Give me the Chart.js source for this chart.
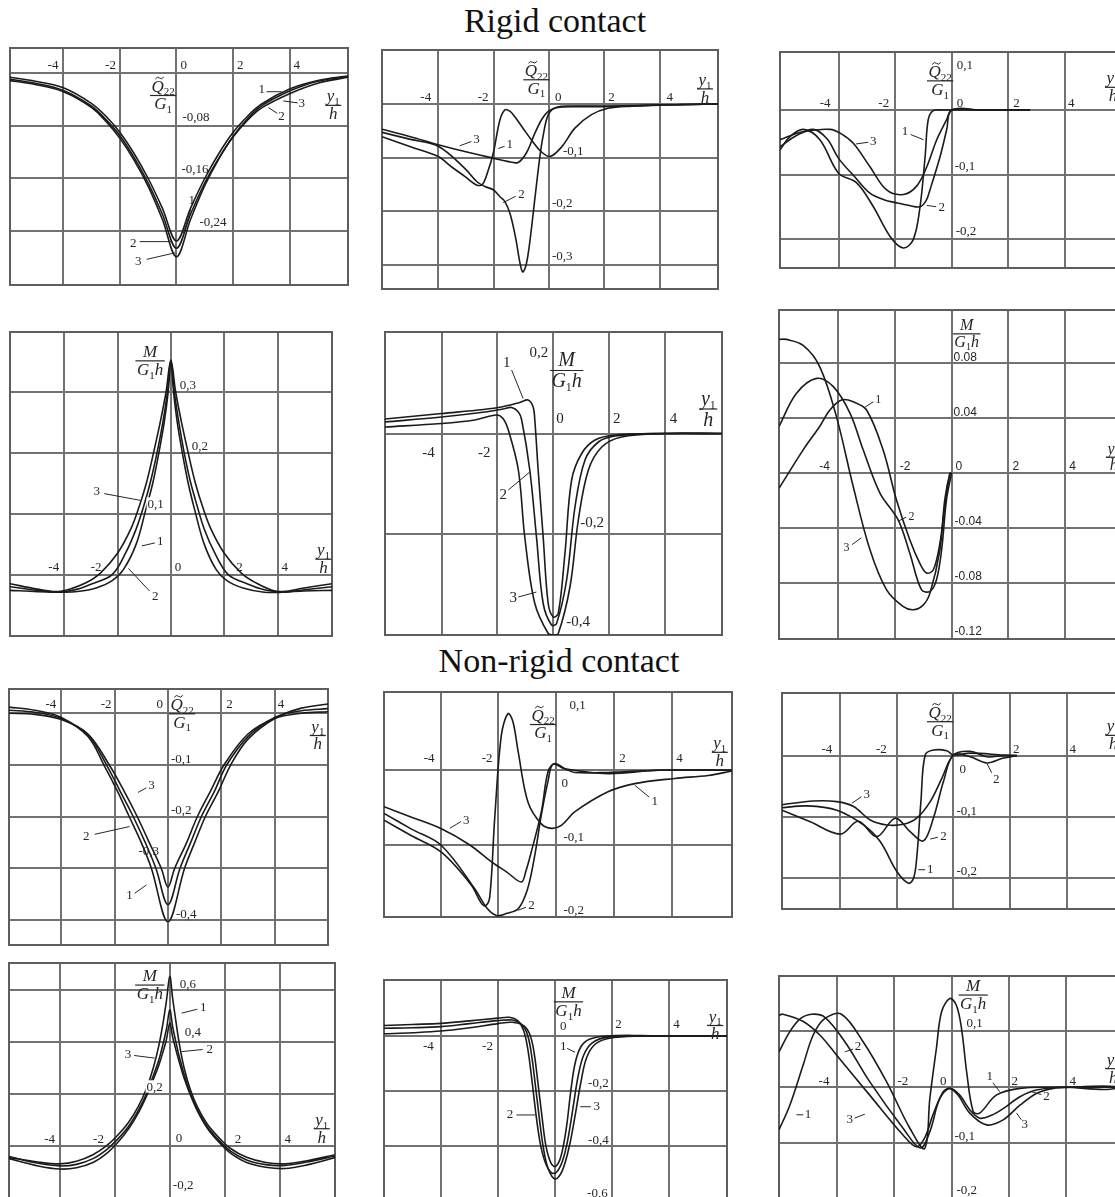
<!DOCTYPE html>
<html>
<head>
<meta charset="utf-8">
<script src="https://cdn.jsdelivr.net/npm/chart.js@4.4.0/dist/chart.umd.min.js"></script>
<style>
html, body { margin: 0; padding: 0; background: #fff; width: 1115px; height: 1197px; overflow: hidden; }
#page { position: relative; width: 1115px; height: 1197px; overflow: hidden; background: #fff; }
#page canvas { position: absolute; }
.title { position: absolute; font-family: "Liberation Serif", serif; font-size: 34px; color: #111; white-space: nowrap; transform: translateX(-50%); line-height: 38px; }
</style>
</head>
<body>
<div id="page">
  <div class="title" style="left:555px; top:2px">Rigid contact</div>
  <div class="title" style="left:559px; top:642px">Non-rigid contact</div>
</div>
<script>
// y1/h grid, same for every panel
const xGrid = [-4, -2, 0, 2, 4];
const xTicks = [-4, -2, 2, 4];
const xTicksZero = [-4, -2, 0, 2, 4];

// ---------- Rigid contact ----------
// Q22/G1, left
const rigQaY = [0, -0.08, -0.16, -0.24];
const rigQaYLab = [0, -0.08, -0.16, -0.24];
const rigQa1 = [[-5.9,-0.006],[-5,-0.012],[-4,-0.022],[-3,-0.046],[-2.5,-0.065],[-2,-0.09],[-1.5,-0.122],[-1,-0.16],[-0.5,-0.205],[0,-0.255],[0.5,-0.205],[1,-0.16],[1.5,-0.122],[2,-0.09],[2.5,-0.066],[3,-0.047],[4,-0.024],[5,-0.011],[6.07,-0.004]];
const rigQa2 = [[-5.9,-0.009],[-5,-0.015],[-4,-0.026],[-3,-0.05],[-2.5,-0.07],[-2,-0.095],[-1.5,-0.128],[-1,-0.167],[-0.5,-0.214],[0,-0.266],[0.5,-0.214],[1,-0.167],[1.5,-0.129],[2,-0.097],[2.5,-0.072],[3,-0.053],[4,-0.031],[5,-0.015],[6.07,-0.006]];
const rigQa3 = [[-5.9,-0.011],[-5,-0.017],[-4,-0.028],[-3,-0.052],[-2.5,-0.073],[-2,-0.099],[-1.5,-0.132],[-1,-0.172],[-0.5,-0.222],[0,-0.279],[0.5,-0.222],[1,-0.171],[1.5,-0.13],[2,-0.096],[2.5,-0.07],[3,-0.05],[4,-0.027],[5,-0.012],[6.07,-0.005]];

// Q22/G1, middle
const rigQbY = [0, -0.1, -0.2, -0.3];
const rigQbYLab = [0, -0.1, -0.2, -0.3];
const rigQb1 = [[-6.03,-0.061],[-5,-0.08],[-4,-0.098],[-3.5,-0.118],[-3.04,-0.135],[-2.62,-0.151],[-2.4,-0.15],[-2.2,-0.125],[-2.01,-0.092],[-1.77,-0.03],[-1.59,-0.011],[-1.4,-0.014],[-1.23,-0.024],[-0.9,-0.048],[-0.63,-0.067],[-0.3,-0.088],[0.04,-0.098],[0.46,-0.08],[0.94,-0.045],[1.54,-0.02],[2.14,-0.008],[3,-0.004],[4.07,-0.002],[6.12,0]];
const rigQb2 = [[-6.03,-0.053],[-5,-0.066],[-4,-0.079],[-3.04,-0.12],[-2.6,-0.145],[-2.31,-0.154],[-2.01,-0.16],[-1.77,-0.173],[-1.59,-0.182],[-1.4,-0.205],[-1.2,-0.25],[-1.05,-0.295],[-0.95,-0.313],[-0.85,-0.305],[-0.75,-0.28],[-0.63,-0.232],[-0.51,-0.178],[-0.33,-0.1],[-0.21,-0.06],[-0.02,-0.02],[0.28,-0.006],[1,-0.004],[2.14,-0.004],[4.07,-0.002],[6.12,0]];
const rigQb3 = [[-6.03,-0.047],[-5,-0.061],[-4,-0.076],[-3,-0.089],[-2.01,-0.101],[-1.5,-0.107],[-1.11,-0.109],[-0.8,-0.09],[-0.51,-0.055],[-0.25,-0.028],[-0.02,-0.014],[0.28,-0.007],[1,-0.005],[2.14,-0.005],[4.07,-0.002],[6.12,0]];

// Q22/G1, right
const rigQcY = [0, -0.1, -0.2];
const rigQcYLab = [0.1, 0, -0.1, -0.2];
const rigQc1 = [[-6.07,-0.062],[-5.71,-0.041],[-5.24,-0.03],[-4.66,-0.046],[-4,-0.098],[-3.36,-0.113],[-2.77,-0.15],[-2.18,-0.196],[-1.71,-0.214],[-1.36,-0.201],[-1.12,-0.15],[-0.94,-0.072],[-0.83,-0.015],[-0.65,-0.001],[-0.3,0],[0,0],[1,0],[2.77,0]];
const rigQc2 = [[-6.07,-0.057],[-5.5,-0.04],[-4.89,-0.03],[-4.4,-0.045],[-4,-0.075],[-3.4,-0.105],[-2.89,-0.129],[-2.4,-0.139],[-1.94,-0.144],[-1.5,-0.148],[-1.12,-0.15],[-0.9,-0.14],[-0.77,-0.124],[-0.41,-0.072],[-0.18,-0.031],[0,0],[1,0],[2.77,0]];
const rigQc3 = [[-6.07,-0.046],[-5.3,-0.034],[-4.3,-0.03],[-3.9,-0.037],[-3.47,-0.052],[-2.89,-0.088],[-2.3,-0.124],[-1.71,-0.131],[-1.24,-0.118],[-0.88,-0.088],[-0.53,-0.046],[-0.18,-0.015],[0,0],[1,0],[2.77,0]];

// M/(G1 h), left
const rigMaY = [0, 0.1, 0.2, 0.3];
const rigMaYLab = [0.3, 0.2, 0.1, 0];
const rigMa1 = [[-6.03,-0.02],[-5,-0.026],[-4.2,-0.029],[-3.5,-0.024],[-3,-0.016],[-2.2,0],[-1.7,0.035],[-1.3,0.075],[-1,0.115],[-0.75,0.155],[-0.52,0.2],[-0.3,0.25],[-0.13,0.3],[0,0.352],[0.13,0.3],[0.3,0.25],[0.5,0.2],[0.72,0.155],[0.97,0.115],[1.25,0.075],[1.65,0.035],[2.15,0],[2.9,-0.016],[3.5,-0.025],[4.2,-0.029],[5,-0.025],[6.04,-0.02]];
const rigMa2 = [[-6.03,-0.026],[-5,-0.028],[-4,-0.029],[-3.5,-0.028],[-2.8,-0.022],[-2.2,-0.01],[-1.78,0.008],[-1.3,0.05],[-0.95,0.105],[-0.68,0.15],[-0.45,0.2],[-0.25,0.25],[-0.1,0.3],[0,0.352],[0.1,0.3],[0.24,0.25],[0.43,0.2],[0.65,0.15],[0.9,0.105],[1.25,0.05],[1.7,0.008],[2.1,-0.01],[2.7,-0.022],[3.5,-0.029],[4.2,-0.029],[5,-0.027],[6.04,-0.026]];
const rigMa3 = [[-6.03,-0.015],[-5,-0.024],[-4.3,-0.028],[-3.8,-0.024],[-3.2,-0.014],[-2.65,0.002],[-2,0.035],[-1.5,0.075],[-1.2,0.11],[-0.92,0.15],[-0.65,0.2],[-0.4,0.25],[-0.18,0.3],[0,0.352],[0.18,0.3],[0.4,0.25],[0.65,0.2],[0.92,0.15],[1.2,0.11],[1.5,0.075],[2,0.035],[2.65,0.002],[3.2,-0.014],[3.8,-0.026],[4.2,-0.028],[5,-0.022],[6.04,-0.015]];

// M/(G1 h), middle
const rigMbY = [0, -0.2];
const rigMbYLab = [0.2, 0, -0.2, -0.4];
const rigMb1 = [[-6.03,0.029],[-4,0.04],[-2.5,0.048],[-1.85,0.053],[-1.2,0.062],[-0.9,0.067],[-0.72,0.053],[-0.66,0.027],[-0.54,-0.073],[-0.36,-0.207],[-0.18,-0.34],[0,-0.367],[0.18,-0.36],[0.42,-0.24],[0.66,-0.093],[1.02,-0.04],[1.5,-0.013],[2.22,-0.003],[3.95,0],[6.05,0]];
const rigMb2 = [[-6.03,0.023],[-4,0.033],[-2.45,0.043],[-1.8,0.049],[-1.49,0.052],[-1.25,0.043],[-1.13,0.027],[-0.84,-0.073],[-0.6,-0.207],[-0.36,-0.34],[-0.06,-0.383],[0.12,-0.38],[0.48,-0.293],[0.78,-0.147],[1.14,-0.053],[1.62,-0.017],[2.22,-0.005],[3.95,0],[6.05,0]];
const rigMb3 = [[-6.03,0.013],[-4,0.02],[-2.81,0.027],[-2.03,0.037],[-1.8,0.03],[-1.61,0.007],[-1.25,-0.073],[-1.02,-0.207],[-0.66,-0.34],[-0.18,-0.4],[0,-0.403],[0.18,-0.4],[0.6,-0.307],[0.9,-0.173],[1.26,-0.073],[1.74,-0.027],[2.45,-0.007],[3.95,0],[6.05,0]];

// M/(G1 h), right
const rigMcY = [0.08, 0.04, 0, -0.04, -0.08];
const rigMcYLab = [0.08, 0.04, 0, -0.04, -0.08, -0.12];
const rigMc1 = [[-6.07,-0.011],[-5.22,0.017],[-4.64,0.034],[-4.28,0.046],[-3.87,0.0533],[-3.46,0.052],[-2.99,0.046],[-2.41,0.017],[-1.94,-0.0194],[-1.47,-0.0485],[-1.12,-0.0655],[-0.88,-0.0727],[-0.64,-0.0703],[-0.41,-0.051],[-0.24,-0.024],[-0.06,-0.001],[0,0]];
const rigMc2 = [[-6.07,0.034],[-5.46,0.058],[-4.75,0.069],[-4.16,0.063],[-3.57,0.0436],[-3.11,0.017],[-2.52,-0.0145],[-1.88,-0.034],[-1.47,-0.0582],[-1.06,-0.0848],[-0.76,-0.086],[-0.53,-0.0776],[-0.35,-0.0558],[-0.18,-0.0194],[0,0]];
const rigMc3 = [[-6.07,0.0974],[-5.81,0.0974],[-5.22,0.093],[-4.64,0.0776],[-4.05,0.0412],[-3.46,-0.0097],[-2.87,-0.0558],[-2.29,-0.0848],[-1.71,-0.097],[-1.35,-0.0994],[-1,-0.096],[-0.76,-0.0873],[-0.41,-0.0558],[-0.24,-0.0194],[-0.06,0],[0,0]];

// ---------- Non-rigid contact ----------
// Q22/G1, left
const nrQaY = [0, -0.1, -0.2, -0.3, -0.4];
const nrQaYLab = [-0.1, -0.2, -0.3, -0.4];
const nrQa1 = [[-5.96,0.012],[-5,0.006],[-4,-0.008],[-3,-0.045],[-2.4,-0.1],[-1.9,-0.15],[-1.45,-0.2],[-1,-0.25],[-0.62,-0.3],[0,-0.403],[0.62,-0.3],[1,-0.25],[1.4,-0.2],[1.9,-0.15],[2.35,-0.1],[3,-0.05],[4,-0.01],[5,0.01],[6,0.018]];
const nrQa2 = [[-5.96,0.006],[-5,0.002],[-4,-0.01],[-3,-0.042],[-2.3,-0.1],[-1.8,-0.15],[-1.3,-0.2],[-0.85,-0.25],[-0.45,-0.3],[0,-0.37],[0.45,-0.3],[0.85,-0.25],[1.25,-0.2],[1.75,-0.15],[2.2,-0.1],[3,-0.045],[4,-0.008],[5,0.005],[6,0.009]];
const nrQa3 = [[-5.96,0],[-5,-0.002],[-4,-0.012],[-3,-0.04],[-2.2,-0.1],[-1.65,-0.15],[-1.15,-0.2],[-0.7,-0.25],[-0.25,-0.3],[0,-0.336],[0.25,-0.3],[0.7,-0.25],[1.1,-0.2],[1.6,-0.15],[2.1,-0.1],[3,-0.04],[4,-0.01],[5,0],[6,0.003]];

// Q22/G1, middle
const nrQbY = [0, -0.1];
const nrQbYLab = [0.1, 0, -0.1, -0.2];
const nrQb1 = [[-5.95,-0.067],[-5,-0.088],[-3.97,-0.11],[-2.94,-0.154],[-2.6,-0.178],[-2.45,-0.182],[-2.3,-0.17],[-2.13,-0.065],[-1.9,0.047],[-1.67,0.076],[-1.5,0.065],[-1.32,0.025],[-0.98,-0.043],[-0.52,-0.072],[-0.17,-0.078],[0.17,-0.074],[0.63,-0.056],[1.78,-0.029],[2.7,-0.018],[4.08,-0.011],[5.24,-0.007],[6.06,-0.001]];
const nrQb2 = [[-5.95,-0.058],[-5,-0.079],[-3.97,-0.101],[-2.82,-0.159],[-2.4,-0.185],[-2.07,-0.195],[-1.7,-0.192],[-1.32,-0.186],[-1,-0.16],[-0.75,-0.115],[-0.52,-0.06],[-0.29,-0.015],[-0.12,0.008],[0.29,0.002],[1.78,-0.0045],[3.51,0],[6.06,0]];
const nrQb3 = [[-5.95,-0.049],[-5,-0.063],[-3.97,-0.0785],[-3,-0.1],[-2.24,-0.123],[-1.7,-0.137],[-1.21,-0.15],[-1.05,-0.135],[-0.87,-0.11],[-0.52,-0.056],[-0.29,-0.002],[-0.06,0.009],[0.29,0.002],[0.63,-0.003],[1.78,-0.003],[3.51,0],[6.06,0]];

// Q22/G1, right
const nrQcY = [0, -0.1, -0.2];
const nrQcYLab = [0, -0.1, -0.2];
const nrQc1 = [[-6.06,-0.085],[-5.18,-0.082],[-4.12,-0.089],[-3.18,-0.113],[-2.59,-0.14],[-2,-0.189],[-1.59,-0.208],[-1.41,-0.2],[-1.3,-0.168],[-1.15,-0.075],[-1,0.001],[-0.71,0.009],[-0.24,0.008],[0,0.001],[0.59,0.004],[1.77,0.001],[2.24,0]];
const nrQc2 = [[-6.06,-0.089],[-5.06,-0.108],[-4,-0.128],[-3.36,-0.107],[-2.71,-0.132],[-2.06,-0.102],[-1.53,-0.124],[-1.06,-0.139],[-0.71,-0.102],[-0.35,-0.042],[0,0.001],[0.59,-0.002],[1.18,-0.012],[1.77,-0.004],[2.24,0]];
const nrQc3 = [[-6.06,-0.08],[-4.94,-0.074],[-4.12,-0.075],[-3.53,-0.083],[-2.94,-0.105],[-2.36,-0.113],[-1.77,-0.112],[-1.3,-0.102],[-0.82,-0.075],[-0.41,-0.037],[0,0.001],[0.59,0.007],[1.18,-0.002],[1.77,0],[2.24,0]];

// M/(G1 h), left
const nrMaY = [0.6, 0.4, 0.2, 0, -0.2];
const nrMaYLab = [0.6, 0.4, 0.2, 0, -0.2];
const nrMa1 = [[-5.86,-0.045],[-4.8,-0.063],[-4,-0.07],[-3.4,-0.06],[-2.8,-0.035],[-2.3,0],[-1.9,0.04],[-1.5,0.09],[-1.15,0.15],[-0.85,0.22],[-0.6,0.3],[-0.4,0.385],[-0.25,0.47],[-0.12,0.56],[0,0.652],[0.1,0.57],[0.22,0.48],[0.35,0.39],[0.52,0.3],[0.75,0.215],[1,0.15],[1.35,0.085],[1.75,0.035],[2.2,-0.01],[2.8,-0.045],[3.5,-0.065],[4.2,-0.07],[5,-0.058],[6.02,-0.035]];
const nrMa2 = [[-5.86,-0.042],[-4.8,-0.068],[-4,-0.078],[-3.4,-0.072],[-2.8,-0.05],[-2.3,-0.015],[-1.9,0.025],[-1.5,0.075],[-1.15,0.135],[-0.85,0.2],[-0.6,0.27],[-0.4,0.33],[-0.25,0.39],[-0.12,0.45],[0,0.523],[0.1,0.46],[0.22,0.4],[0.35,0.34],[0.52,0.275],[0.75,0.2],[1,0.14],[1.35,0.075],[1.75,0.025],[2.2,-0.02],[2.8,-0.055],[3.5,-0.073],[4.2,-0.076],[5,-0.063],[6.02,-0.04]];
const nrMa3 = [[-5.86,-0.05],[-4.8,-0.078],[-4,-0.09],[-3.4,-0.085],[-2.8,-0.065],[-2.3,-0.03],[-1.9,0.012],[-1.5,0.065],[-1.15,0.125],[-0.85,0.19],[-0.6,0.255],[-0.4,0.31],[-0.25,0.36],[-0.12,0.41],[0,0.472],[0.1,0.42],[0.22,0.37],[0.35,0.32],[0.52,0.26],[0.75,0.195],[1,0.135],[1.35,0.07],[1.75,0.018],[2.2,-0.028],[2.8,-0.065],[3.5,-0.083],[4.2,-0.088],[5,-0.074],[6.02,-0.046]];

// M/(G1 h), middle
const nrMbY = [0, -0.2, -0.4];
const nrMbYLab = [0, -0.2, -0.4, -0.6];
const nrMb1 = [[-5.99,0.008],[-5,0.012],[-4,0.018],[-3,0.03],[-2,0.045],[-1.5,0.05],[-1.1,0.038],[-0.9,0.01],[-0.75,-0.05],[-0.6,-0.17],[-0.45,-0.3],[-0.32,-0.4],[-0.15,-0.46],[0,-0.475],[0.2,-0.44],[0.4,-0.33],[0.55,-0.2],[0.7,-0.1],[0.9,-0.04],[1.2,-0.012],[1.8,0],[3,0.002],[4,0],[6.02,0]];
const nrMb2 = [[-5.99,0.038],[-5,0.042],[-4,0.046],[-3,0.055],[-2,0.065],[-1.6,0.068],[-1.3,0.055],[-1.1,0.02],[-0.95,-0.05],[-0.8,-0.17],[-0.65,-0.3],[-0.5,-0.4],[-0.3,-0.47],[-0.05,-0.5],[0.2,-0.47],[0.4,-0.4],[0.6,-0.28],[0.8,-0.15],[1,-0.07],[1.3,-0.025],[1.8,-0.005],[3,0],[4,0],[6.02,0]];
const nrMb3 = [[-5.99,0.028],[-5,0.03],[-4,0.034],[-3,0.045],[-2,0.056],[-1.5,0.058],[-1.2,0.045],[-1,0.015],[-0.85,-0.05],[-0.7,-0.17],[-0.55,-0.3],[-0.42,-0.4],[-0.25,-0.48],[0,-0.52],[0.25,-0.49],[0.5,-0.4],[0.7,-0.29],[0.9,-0.17],[1.1,-0.08],[1.4,-0.03],[1.9,-0.008],[3,0],[4,0],[6.02,0]];

// M/(G1 h), right
const nrMcY = [0.1, 0, -0.1];
const nrMcYLab = [0.1, -0.1, -0.2];
const nrMc1 = [[-6.05,-0.076],[-5.67,-0.032],[-5.2,0.04],[-4.85,0.093],[-4.45,0.122],[-3.86,0.13],[-3.1,0.081],[-2.28,0.01],[-1.46,-0.073],[-0.94,-0.109],[-0.76,-0.02],[-0.53,0.069],[-0.35,0.134],[-0.06,0.158],[0.17,0.146],[0.35,0.105],[0.53,0.028],[0.76,-0.043],[0.99,-0.046],[1.57,-0.014],[2.4,-0.002],[3.57,0],[6.12,0]];
const nrMc2 = [[-6.05,0.063],[-5.67,0.099],[-5.3,0.122],[-4.91,0.13],[-4.45,0.125],[-3.74,0.081],[-2.87,0.01],[-1.7,-0.073],[-1.09,-0.108],[-0.76,-0.079],[-0.41,-0.02],[-0.06,-0.002],[0.29,-0.014],[0.64,-0.04],[0.99,-0.055],[1.4,-0.05],[1.81,-0.038],[2.4,-0.017],[2.98,-0.005],[3.92,0],[5.33,-0.004],[6.12,0]];
const nrMc3 = [[-6.05,0.128],[-5.91,0.13],[-5.2,0.117],[-4.62,0.093],[-4.04,0.058],[-2.87,-0.014],[-1.7,-0.085],[-1.23,-0.106],[-0.94,-0.09],[-0.65,-0.049],[-0.29,-0.008],[-0.06,-0.002],[0.23,-0.014],[0.64,-0.046],[1.23,-0.067],[1.81,-0.058],[2.4,-0.032],[2.98,-0.011],[3.57,-0.002],[4.15,0],[5.33,0.002],[6.12,0]];

const gridColor = '#727272';
const frameColor = '#5e5e5e';
const lineColor = '#1b1b1b';
const inkColor = '#262626';
const serif = '"Liberation Serif", serif';
const sans = '"Liberation Sans", Arial, sans-serif';

// box: [left, top, right, bottom] of the plot frame on the page
const panels = [
  { box: [10, 48, 348, 285], x: [-5.89, 6.07], y: [-0.322, 0.0385], yGrid: rigQaY, curves: [rigQa1, rigQa2, rigQa3],
    xLab: xTicks, xPos: [[-5,-4],[-4,-4],[4,-4],[4,-4]],
    yLab: rigQaYLab, yPos: [[4,-4],[6,-5],[5,-5],[23,-5]],
    tags: [['1', 3.02,-0.025, [3.19,-0.028, 3.72,-0.028]], ['3', 4.43,-0.046, [3.78,-0.042, 4.29,-0.045]], ['2', 3.72,-0.066, [3.57,-0.061, 3.25,-0.052]],
           ['1', 0.54,-0.193, [0.5,-0.208, 0.25,-0.243]], ['2', -1.53,-0.259, [-1.3,-0.256, -0.15,-0.256]], ['3', -1.35,-0.287, [-1.05,-0.283, -0.05,-0.273]]],
    fracs: [['Q', -0.47, -0.033, 17], ['Y', 5.55, -0.048, 17]] },
  { box: [382, 50, 718, 289], x: [-6.03, 6.11], y: [-0.345, 0.1006], yGrid: rigQbY, curves: [rigQb1, rigQb2, rigQb3],
    xLab: xTicks, xPos: [[-7,-3],[-5,-3],[4,-3],[7,-3]],
    yLab: rigQbYLab, yPos: [[6,-3],[14,-3],[3,-4],[3,-5]],
    tags: [['3', -2.62,-0.067, [-2.8,-0.07, -3.22,-0.078]], ['1', -1.41,-0.076, [-1.6,-0.079, -1.83,-0.083]], ['2', -0.99,-0.169, [-1.2,-0.172, -1.65,-0.184]]],
    fracs: [['Q', -0.45, 0.046, 17], ['Y', 5.64, 0.029, 17]] },
  { box: [780, 52, 1124, 268], x: [-6.07, 6.09], y: [-0.245, 0.09], yGrid: rigQcY, curves: [rigQc1, rigQc2, rigQc3],
    xLab: xTicks, xPos: [[-8,-3],[-6,-3],[5,-3],[3,-3]],
    yLab: rigQcYLab, yPos: [[5,23],[5,-3],[3,-5],[4,-4]],
    tags: [['1', -1.65,-0.0335, [-1.45,-0.038, -1.0,-0.046]], ['3', -2.77,-0.049, [-2.95,-0.05, -3.38,-0.0526]], ['2', -0.35,-0.152, [-0.55,-0.15, -0.88,-0.148]]],
    fracs: [['Q', -0.41, 0.046, 17], ['Y', 5.7, 0.036, 17]] },
  { box: [10, 332, 332, 636], x: [-6.03, 6.04], y: [-0.101, 0.3986], yGrid: rigMaY, curves: [rigMa1, rigMa2, rigMa3],
    xLab: xTicks, xPos: [[-5,-4],[-16,-4],[12,-4],[4,-4]],
    yLab: rigMaYLab, yPos: [[9,-3],[21,-3],[-7,-6,1],[4,-4]],
    tags: [['3', -2.78,0.136, [-2.5,0.133, -1.15,0.122]], ['1', -0.4,0.054, [-0.6,0.052, -1.09,0.047]], ['2', -0.59,-0.037, [-0.8,-0.027, -1.59,0.01]]],
    fracs: [['M', -0.78, 0.352, 17], ['Y', 5.72, 0.026, 17]] },
  { box: [385, 332, 722, 635], x: [-6.03, 6.05], y: [-0.403, 0.203], yGrid: rigMbY, curves: [rigMb1, rigMb2, rigMb3], fs: 15,
    xLab: xTicks, xPos: [[-7,23],[-7,23],[4,-11],[5,-11]],
    yLab: rigMbYLab, yPos: [[-5,23],[3,-11],[27,-7],[13,-8]],
    tags: [['1', -1.67,0.14, [-1.49,0.127, -1.08,0.07]], ['2', -1.79,-0.123, [-1.61,-0.113, -0.84,-0.077]], ['3', -1.43,-0.33, [-1.25,-0.327, -0.6,-0.317]]],
    fracs: [['M', 0.48, 0.127, 20], ['Y', 5.56, 0.05, 20]] },
  { box: [779, 310, 1125, 639], x: [-6.07, 6.1], y: [-0.1207, 0.1188], yGrid: rigMcY, curves: [rigMc1, rigMc2, rigMc3], face: sans, fs: 12, dec: '.',
    xLab: xTicks, xPos: [[-8,-3],[5,-3],[4,-3],[4,-3]],
    yLab: rigMcYLab, yPos: [[2,-2],[2,-2],[4,-3],[3,-3],[3,-3],[3,-3]],
    tags: [['1', -2.58,0.0533, [-2.75,0.052, -3.05,0.048]], ['2', -1.41,-0.0316, [-1.6,-0.032, -1.88,-0.035]], ['3', -3.7,-0.0545, [-3.5,-0.052, -3.17,-0.047]]],
    fracs: [['M', 0.53, 0.1018, 16], ['Y', 5.7, 0.012, 16]] },
  { box: [9, 689, 328, 945], x: [-5.96, 6.0], y: [-0.448, 0.047], yGrid: nrQaY, curves: [nrQa1, nrQa2, nrQa3],
    xLab: xTicksZero, xPos: [[-5,-5],[-3,-5],[-5,-5],[5,-5],[3,-5]],
    yLab: nrQaYLab, yPos: [[3,-2],[3,-3],[-9,-13],[8,-2]],
    tags: [['3', -0.62,-0.139, [-0.81,-0.144, -1.12,-0.153]], ['2', -3.06,-0.239, [-2.75,-0.234, -1.44,-0.219]], ['1', -1.44,-0.352, [-1.25,-0.348, -0.81,-0.332]]],
    fracs: [['Q', 0.53, 0.0, 17], ['Y', 5.62, -0.042, 17]] },
  { box: [384, 692, 732, 917], x: [-5.95, 6.06], y: [-0.197, 0.105], yGrid: nrQbY, curves: [nrQb1, nrQb2, nrQb3],
    xLab: xTicks, xPos: [[-6,-8],[-6,-8],[5,-8],[4,-8]],
    yLab: nrQbYLab, yPos: [[13,13],[5,17],[7,-4],[7,-5]],
    tags: [['3', -3.11,-0.067, [-3.3,-0.069, -3.68,-0.078]], ['1', 3.39,-0.0427, [3.2,-0.036, 2.7,-0.02]], ['2', -0.86,-0.182, [-1.05,-0.184, -1.33,-0.188]]],
    fracs: [['Q', -0.46, 0.062, 17], ['Y', 5.64, 0.0247, 17]] },
  { box: [782, 693, 1126, 909], x: [-6.06, 6.1], y: [-0.25, 0.102], yGrid: nrQcY, curves: [nrQc1, nrQc2, nrQc3],
    xLab: xTicks, xPos: [[-8,-3],[-10,-3],[3,-3],[3,-3]],
    yLab: nrQcYLab, yPos: [[6,17],[3,-2],[3,-3]],
    tags: [['3', -3.06,-0.064, [-3.25,-0.067, -3.59,-0.0777]], ['2', 1.51,-0.0396, [1.35,-0.028, 1.18,-0.0124]], ['2', -0.35,-0.132, [-0.55,-0.133, -0.82,-0.136]], ['1', -0.82,-0.186, [-1.0,-0.186, -1.24,-0.186]]],
    fracs: [['Q', -0.47, 0.056, 17], ['Y', 5.65, 0.0338, 17]] },
  { box: [9, 963, 335, 1201], x: [-5.86, 6.02], y: [-0.213, 0.703], yGrid: nrMaY, curves: [nrMa1, nrMa2, nrMa3],
    xLab: xTicks, xPos: [[-5,-3],[-11,-3],[10,-3],[5,-3]],
    yLab: nrMaYLab, yPos: [[10,-2],[15,-6],[-7,-3,1],[6,-4],[3,-9]],
    tags: [['1', 1.22,0.53, [1.0,0.525, 0.43,0.51]], ['2', 1.46,0.369, [1.2,0.37, 0.43,0.362]], ['3', -1.52,0.35, [-1.3,0.347, -0.55,0.337]]],
    fracs: [['M', -0.73, 0.62, 17], ['Y', 5.54, 0.067, 17]] },
  { box: [384, 980, 727, 1203], x: [-5.99, 6.02], y: [-0.607, 0.2036], yGrid: nrMbY, curves: [nrMb1, nrMb2, nrMb3],
    xLab: xTicks, xPos: [[-7,14],[-5,14],[3,-8],[4,-8]],
    yLab: nrMbYLab, yPos: [[5,-6],[33,-4],[33,-2],[32,-4]],
    tags: [['1', 0.29,-0.039, [0.42,-0.045, 0.7,-0.059]], ['2', -1.58,-0.287, [-1.35,-0.287, -0.7,-0.287]], ['3', 1.46,-0.257, [1.25,-0.257, 0.88,-0.257]]],
    fracs: [['M', 0.47, 0.126, 17], ['Y', 5.61, 0.04, 17]] },
  { box: [779, 976, 1126, 1203], x: [-6.05, 6.12], y: [-0.206, 0.198], yGrid: nrMcY, curves: [nrMc1, nrMc2, nrMc3],
    xLab: xTicksZero, xPos: [[-8,-2],[3,-2],[-5,-2],[3,-2],[4,-2]],
    yLab: nrMcYLab, yPos: [[15,-4],[3,-3],[5,-6]],
    tags: [['1', -5.03,-0.049, [-5.2,-0.049, -5.44,-0.049]], ['3', -3.57,-0.058, [-3.4,-0.055, -3.04,-0.048]], ['2', -3.28,0.072, [-3.45,0.068, -3.74,0.063]],
           ['1', 1.34,0.019, [1.45,0.008, 1.69,-0.008]], ['2', 3.33,-0.017, [3.15,-0.013, 2.81,-0.008]], ['3', 2.57,-0.067, [2.45,-0.058, 2.28,-0.046]]],
    fracs: [['M', 0.76, 0.165, 17], ['Y', 5.67, 0.034, 17]] }
];

// axis captions as fractions: [numerator runs, denominator runs]; i = italic letter, s = subscript
const fracText = {
  Q: [[['Q', 'i'], ['22', 's']], [['G', 'i'], ['1', 's']]],
  M: [[['M', 'i']], [['G', 'i'], ['1', 's'], ['h', 'i']]],
  Y: [[['y', 'i'], ['1', 's']], [['h', 'i']]]
};

function runFont(kind, size) {
  return kind === 's' ? Math.round(size * 0.62) + 'px ' + serif : 'italic ' + size + 'px ' + serif;
}
function runsWidth(ctx, runs, size) {
  let w = 0;
  runs.forEach(([t, k]) => { ctx.font = runFont(k, size); w += ctx.measureText(t).width; });
  return w;
}
function drawRuns(ctx, runs, x, base, size) {
  runs.forEach(([t, k]) => {
    ctx.font = runFont(k, size);
    ctx.fillText(t, x, k === 's' ? base + size * 0.22 : base);
    x += ctx.measureText(t).width;
  });
}
function drawFrac(ctx, kind, cx, cy, size) {
  const [num, den] = fracText[kind];
  const wn = runsWidth(ctx, num, size), wd = runsWidth(ctx, den, size);
  const w = Math.max(wn, wd) + 3;
  ctx.textAlign = 'left';
  ctx.textBaseline = 'alphabetic';
  drawRuns(ctx, num, cx - wn / 2, cy - size * 0.2, size);
  drawRuns(ctx, den, cx - wd / 2, cy + size * 0.85, size);
  ctx.lineWidth = 1;
  if (kind === 'Q') {
    // small tilde over Q
    const tx = cx - wn / 2 + size * 0.22, ty = cy - size * 1.0, tw = size * 0.5;
    ctx.beginPath();
    ctx.moveTo(tx, ty + 1);
    ctx.quadraticCurveTo(tx + tw / 4, ty - 2, tx + tw / 2, ty);
    ctx.quadraticCurveTo(tx + tw * 3 / 4, ty + 2, tx + tw, ty - 1);
    ctx.stroke();
  }
  ctx.lineWidth = 1.2;
  ctx.beginPath();
  ctx.moveTo(cx - w / 2, cy + 0.5);
  ctx.lineTo(cx + w / 2, cy + 0.5);
  ctx.stroke();
}

function fmt(v, dec) {
  const s = String(v);
  return dec === '.' ? s : s.replace('.', ',');
}

// frame, tick texts, curve numbers and axis captions
function panelDecor(p) {
  const fs = p.fs || 13;
  const face = p.face || serif;
  return {
    id: 'panelDecor',
    beforeDatasetsDraw(chart) {
      const { ctx, chartArea: a } = chart;
      ctx.save();
      ctx.strokeStyle = frameColor;
      ctx.lineWidth = 2;
      ctx.strokeRect(a.left, a.top, a.right - a.left, a.bottom - a.top);
      ctx.restore();
    },
    afterDatasetsDraw(chart) {
      const ctx = chart.ctx, sx = chart.scales.x, sy = chart.scales.y;
      const X = v => sx.getPixelForValue(v), Y = v => sy.getPixelForValue(v);
      const ax = X(0), ay = Y(0);
      ctx.save();
      ctx.fillStyle = inkColor;
      ctx.strokeStyle = inkColor;
      ctx.textBaseline = 'alphabetic';
      ctx.font = fs + 'px ' + face;
      const put = (txt, x, y, dx, bg) => {
        ctx.textAlign = dx < 0 ? 'right' : 'left';
        if (bg) {
          const w = ctx.measureText(txt).width;
          ctx.fillStyle = '#fff';
          ctx.fillRect(dx < 0 ? x - w - 1 : x - 1, y - fs * 0.8, w + 2, fs * 0.95);
          ctx.fillStyle = inkColor;
        }
        ctx.fillText(txt, x, y);
      };
      p.xLab.forEach((v, i) => { const [dx, dy] = p.xPos[i]; put(fmt(v, p.dec), X(v) + dx, ay + dy, dx); });
      p.yLab.forEach((v, i) => { const [dx, dy, bg] = p.yPos[i]; put(fmt(v, p.dec), ax + dx, Y(v) + dy, dx, bg); });

      ctx.font = fs + 'px ' + serif;
      ctx.textAlign = 'center';
      ctx.textBaseline = 'middle';
      ctx.lineWidth = 1;
      p.tags.forEach(([t, tx, ty, [x1, y1, x2, y2]]) => {
        ctx.fillText(t, X(tx), Y(ty));
        ctx.beginPath();
        ctx.moveTo(X(x1), Y(y1));
        ctx.lineTo(X(x2), Y(y2));
        ctx.stroke();
      });
      p.fracs.forEach(([k, fx, fy, size]) => drawFrac(ctx, k, X(fx), Y(fy), size));
      ctx.restore();
    }
  };
}

const page = document.getElementById('page');

panels.forEach(p => {
  const [L, T, R, B] = p.box;
  const canvas = document.createElement('canvas');
  canvas.width = R - L + 4;
  canvas.height = B - T + 4;
  canvas.style.left = (L - 2) + 'px';
  canvas.style.top = (T - 2) + 'px';
  page.appendChild(canvas);

  new Chart(canvas.getContext('2d'), {
    type: 'scatter',
    data: {
      datasets: p.curves.map(c => ({
        data: c.map(([x, y]) => ({ x, y })),
        showLine: true,
        borderColor: lineColor,
        borderWidth: 1.6,
        pointRadius: 0,
        tension: 0.35,
        fill: false
      }))
    },
    options: {
      responsive: false,
      animation: false,
      events: [],
      layout: { padding: 2 },
      plugins: { legend: { display: false }, tooltip: { enabled: false } },
      scales: {
        x: {
          type: 'linear', min: p.x[0], max: p.x[1],
          ticks: { display: false },
          border: { display: false },
          grid: { color: gridColor, lineWidth: 2, drawTicks: false },
          afterBuildTicks: s => { s.ticks = xGrid.map(v => ({ value: v })); }
        },
        y: {
          type: 'linear', min: p.y[0], max: p.y[1],
          ticks: { display: false },
          border: { display: false },
          grid: { color: gridColor, lineWidth: 2, drawTicks: false },
          afterBuildTicks: s => { s.ticks = p.yGrid.map(v => ({ value: v })); }
        }
      }
    },
    plugins: [panelDecor(p)]
  });
});
</script>
</body>
</html>
